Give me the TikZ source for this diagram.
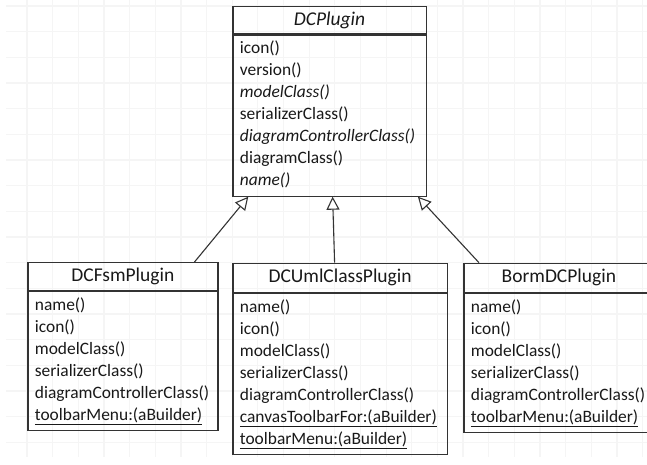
\documentclass[tikz,border=0pt]{standalone}
\usepackage{fontspec}
\setmainfont{Carlito}
\usetikzlibrary{positioning,arrows.meta}

\begin{document}
\begin{tikzpicture}[x=1pt, y=-1pt, node distance=0pt,
    classhead/.style={draw=black!80, line width=1.2pt, anchor=north west, minimum height=28pt, inner sep=0pt,
    font=\fontsize{19.5}{22}\selectfont, text=black!90},
    classbody/.style={draw=black!80, line width=1.2pt, align=left, inner xsep=7pt, inner ysep=3.5pt,
    font=\fontsize{17.4}{22}\selectfont, text=black!90, execute at begin node=\strut, execute at end node=\strut},
    inherit/.style={draw=black!80, line width=1.1pt, -{Triangle[open, length=13pt, width=13pt, fill=white]}},
    gridline/.style={draw=black!4, line width=1.2pt}]
    \useasboundingbox (0,0) rectangle (647,465);
    \clip (0,0) rectangle (647,465);
    \fill[white] (0,0) rectangle (647,465);
    \foreach \gx in {0,...,24} \draw[gridline] ({27+25.65*\gx},0) -- ++(0,457);
    \foreach \gy in {0,...,17} \draw[gridline] (6,{6+25.67*\gy}) -- ++(641,0);
    \node[classhead, minimum width=193.4pt, minimum height=27.3pt] (base) at (232.3,6) {\textit{DCPlugin}};
    \node[classbody, below=of base, text width=179.4pt] (baseops) {icon()\\ version()\\ \textit{modelClass()}\\ serializerClass()\\
      \textit{diagramControllerClass()}\\ diagramClass()\\ \textit{name()}};
    \node[classhead, minimum width=190pt] (fsm) at (27.3,262) {DCFsmPlugin};
    \node[classbody, below=of fsm, text width=176pt] (fsmops) {name()\\ icon()\\ modelClass()\\ serializerClass()\\
      diagramControllerClass()\\ \underline{toolbarMenu:(aBuilder)}};
    \node[classhead, minimum width=214.4pt, minimum height=29pt] (uml) at (232.3,262.7) {DCUmlClassPlugin};
    \node[classbody, below=of uml, text width=200.4pt] (umlops) {name()\\ icon()\\ modelClass()\\ serializerClass()\\
      diagramControllerClass()\\ \underline{canvasToolbarFor:(aBuilder)}\\ \underline{toolbarMenu:(aBuilder)}};
    \node[classhead, minimum width=190pt, minimum height=29pt] (borm) at (463.3,262.7) {BormDCPlugin};
    \node[classbody, below=of borm, text width=176pt] (bormops) {name()\\ icon()\\ modelClass()\\ serializerClass()\\
      diagramControllerClass()\\ \underline{toolbarMenu:(aBuilder)}};
    \draw[inherit] ([xshift=-24pt]fsm.north east) -- ([xshift=16pt]baseops.south west);
    \draw[inherit] ([xshift=-5.5pt]uml.north) -- ([xshift=3pt]baseops.south);
    \draw[inherit] ([xshift=15.7pt]borm.north west) -- ([xshift=-9pt]baseops.south east);
  \end{tikzpicture}
\end{document}
